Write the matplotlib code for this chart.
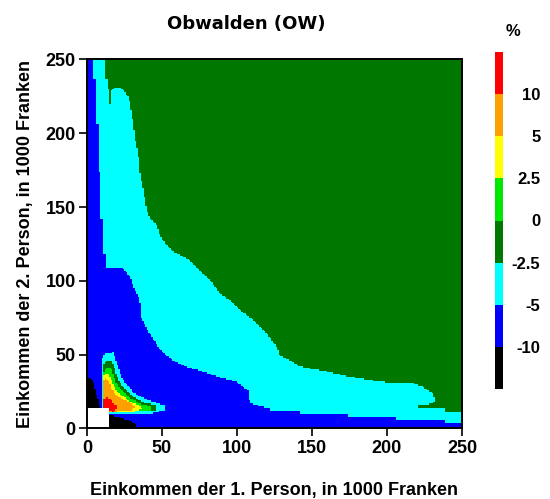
import numpy as np
import matplotlib

matplotlib.use("Agg")
import matplotlib.pyplot as plt
from matplotlib.colors import ListedColormap, BoundaryNorm
from matplotlib.path import Path

# colour classes (percent change), bottom to top
level_bounds = [-15, -10, -5, -2.5, 0, 2.5, 5, 10, 15]
level_labels = ["-10", "-5", "-2.5", "0", "2.5", "5", "10"]
level_colors = ["#000000", "#0000ff", "#00ffff", "#007800",
                "#00e800", "#ffff00", "#ffa000", "#ff0000"]
# representative value for each class
class_value = {"black": -12.5, "blue": -7.5, "cyan": -3.75, "dgreen": -1.25,
               "lgreen": 1.25, "yellow": 3.75, "orange": 7.5, "red": 12.5}

# region outlines (x = 1st income, y = 2nd income, 1000 Fr.)
cyan_zone = [(0, 250), (12.4, 250), (12.4, 237.3), (14.2, 237.3), (14.9, 220.3),
             (16.4, 220.3), (16.4, 229.3), (18.7, 231.2), (22, 231), (25.3, 228.2),
             (28.2, 223.7), (29.1, 218), (30.9, 207.9), (32, 196.6), (34.2, 187.5),
             (35.3, 174), (37.5, 162.7), (39.8, 149.2), (42, 142.4), (46.4, 137.9),
             (48.7, 131.1), (53.1, 124.3), (57.5, 119.8), (62, 117.5), (68.7, 114.2),
             (75.3, 107.4), (82, 100.6), (88.7, 91.6), (95.3, 87), (102, 80.3),
             (110.9, 73.5), (119.8, 64.5), (126, 56), (128.7, 49.8), (135.3, 46.4),
             (142, 41.9), (159.8, 38.5), (175.3, 35.1), (195.3, 31.7), (217.6, 30.6),
             (224.2, 28.3), (230.9, 23.8), (232, 18.2), (228.7, 16.6), (220.9, 15.9),
             (220.9, 14.4), (238.7, 13.7), (238.7, 11.4), (250, 11.4), (250, 0), (0, 0)]
blue_zone = [(0, 250), (4.2, 250), (4.2, 237.3), (6, 237.3), (6, 205.6), (7.6, 205.6),
             (7.6, 174), (9.3, 174), (9.3, 142.4), (11.3, 142.4), (11.3, 117.5),
             (12.7, 117.5), (12.7, 109.6), (15.3, 108.5), (24.2, 108.5), (28.7, 102.9),
             (32, 93.8), (35.3, 87), (36.4, 75.7), (42, 64.5), (48.7, 53.2),
             (57.5, 46.4), (68.7, 40.8), (77.5, 38.5), (90.9, 34), (99.8, 31.7),
             (104.2, 28.3), (107.5, 26.1), (108.7, 17.1), (116.4, 14.8), (122, 13.5),
             (122, 12.1), (142, 12.1), (142, 10.3), (174.2, 10.3), (174.2, 8),
             (206.4, 8), (206.4, 5.8), (238.7, 5.8), (238.7, 3.9), (250, 3.9),
             (250, 0), (0, 0)]
black_left = [(0, 34), (3.1, 34), (4.9, 29.9), (6.4, 23.8), (8, 18.2), (8.7, 13.7),
              (0, 13.7)]
black_bottom = [(14.5, 9.1), (20.9, 8), (27.6, 5.8), (32, 3.5), (33.8, 0), (14.5, 0)]
ring_cyan = [(9.8, 46.4), (12, 50.9), (17.6, 51.6), (19.1, 47.6), (20.9, 41.9),
             (23.1, 35.1), (26.4, 29.9), (32, 23.8), (38.7, 20), (45.3, 17.7),
             (51.6, 15.9), (52, 12.5), (43.1, 10.3), (15.3, 10.3), (14.7, 12.5),
             (9.8, 13.7)]
ring_dgreen = [(10.9, 43), (13.1, 46.4), (16.4, 46.4), (18.2, 41.9), (19.8, 36.2),
               (22, 31.3), (25.3, 26.8), (30.9, 21.5), (37.5, 17.7), (45.8, 15.9),
               (45.8, 12.5), (15.3, 11.4), (10.9, 13.7)]
ring_lgreen = [(10.9, 37.4), (13.1, 41.2), (16, 41.2), (17.6, 36.2), (19.8, 30.6),
               (24.2, 24.9), (29.8, 20), (37.5, 15.9), (43.1, 14.8), (43.1, 12.5),
               (15.3, 11.4), (10.9, 13.7)]
ring_yellow = [(10.9, 35.1), (12.4, 37.4), (14.7, 37.4), (16.4, 32.9), (18.7, 27.2),
               (23.1, 22.7), (28.7, 18.2), (35.3, 15.4), (36.9, 13.2), (32, 11.4),
               (15.3, 11.4), (10.9, 13.7)]
ring_orange = [(10.9, 31.7), (12.4, 34), (14.2, 32.9), (16, 28.3), (18.7, 23.8),
               (23.1, 20), (29.8, 17.1), (32, 14.8), (29.8, 12.5), (18.7, 11.4),
               (15.3, 11.4), (10.9, 13.7)]
ring_red = [(10.9, 19.3), (13.1, 20.9), (16, 19.3), (18.2, 16.4), (20.4, 15.4),
            (20.4, 13.2), (17.6, 11.4), (14.7, 12.5), (10.9, 14.8)]
no_data = [(0, 0), (14.5, 0), (14.5, 13.7), (0, 13.7)]

# painting order: later layers overwrite earlier ones
layers = [(cyan_zone, "cyan"), (blue_zone, "blue"), (black_left, "black"),
          (black_bottom, "black"), (ring_cyan, "cyan"), (ring_dgreen, "dgreen"),
          (ring_lgreen, "lgreen"), (ring_yellow, "yellow"), (ring_orange, "orange"),
          (ring_red, "red")]

# raster grid, 1000 Fr. cells
edges = np.arange(0, 251, 1.0)
centres = (edges[:-1] + edges[1:]) / 2
gx, gy = np.meshgrid(centres, centres)
pts = np.column_stack([gx.ravel(), gy.ravel()])

z = np.full(gx.size, class_value["dgreen"])
for poly, name in layers:
    inside = Path(poly).contains_points(pts)
    z[inside] = class_value[name]
z[Path(no_data).contains_points(pts)] = np.nan
z = np.ma.masked_invalid(z.reshape(gx.shape))

cmap = ListedColormap(level_colors)
norm = BoundaryNorm(level_bounds, cmap.N)

plt.rcParams["font.family"] = ["Liberation Sans", "DejaVu Sans"]
plt.rcParams["font.weight"] = "bold"

fig = plt.figure(figsize=(5.5, 4.99), dpi=100)
ax = fig.add_axes([0.158, 0.1413, 0.682, 0.7395])
mesh = ax.pcolormesh(edges, edges, z, cmap=cmap, norm=norm, shading="flat")

ax.set_xlim(0, 250)
ax.set_ylim(0, 250)
ax.set_xticks([0, 50, 100, 150, 200, 250])
ax.set_yticks([0, 50, 100, 150, 200, 250])
ax.tick_params(labelsize=13, length=6, width=1.2, pad=2, direction="out")
for lab in ax.get_xticklabels() + ax.get_yticklabels():
    lab.set_fontweight("bold")
for sp in ax.spines.values():
    sp.set_linewidth(1.4)

ax.set_xlabel("Einkommen der 1. Person, in 1000 Franken", fontsize=13,
              fontweight="bold", labelpad=18)
ax.set_ylabel("Einkommen der 2. Person, in 1000 Franken", fontsize=13,
              fontweight="bold", labelpad=8)
fig.text(246 / 550, 1 - 24 / 499, "Obwalden (OW)", fontsize=13,
         fontweight="bold", ha="center", va="center", family="DejaVu Sans")

# legend bar, labels sit on the class boundaries
cax = fig.add_axes([495 / 550, 1 - 389 / 499, 8 / 550, 337 / 499])
cb = fig.colorbar(mesh, cax=cax, boundaries=level_bounds,
                  ticks=level_bounds[1:-1], spacing="uniform")
cb.outline.set_visible(False)
cb.ax.minorticks_off()
cb.ax.set_yticklabels(level_labels)
cb.ax.tick_params(which="both", length=0, pad=27, labelsize=12)
for lab in cb.ax.get_yticklabels():
    lab.set_ha("right")
    lab.set_fontweight("bold")
fig.text(513 / 550, 1 - 32 / 499, "%", fontsize=12, fontweight="bold",
         ha="center", va="center")

fig.savefig("out.png", dpi=100)
